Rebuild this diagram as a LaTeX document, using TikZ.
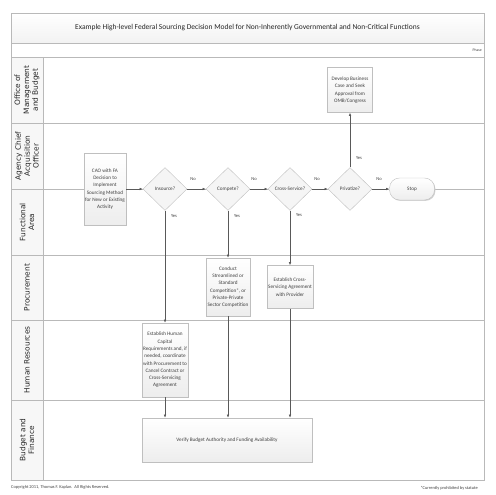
\documentclass[tikz,border=0pt]{standalone}
\usepackage{fontspec}
\setmainfont{Carlito}
\newfontfamily\lanefont{DejaVu Sans}
\usetikzlibrary{arrows.meta,shapes.geometric,shadows}
\newcommand\bxf{\fontsize{5.2}{7.3}\selectfont}
\newcommand\lblf{\fontsize{4.6}{5.5}\selectfont}
\newcommand\lnf{\lanefont\fontsize{7.4}{8.8}\selectfont}
\tikzset{
  lane/.style={draw=gray!55, line width=0.6pt},
  lanelabel/.style={rotate=90, align=center, font=\lnf, text=black!85},
  procbox/.style={draw=gray!50, top color=white, bottom color=gray!14, align=center, font=\bxf, text=black!75, inner sep=1pt,
     general shadow={fill=gray!35, shadow xshift=0.9pt, shadow yshift=-0.9pt}},
  decision/.style={diamond, draw=gray!50, fill=gray!8, align=center, font=\bxf, text=black!75, inner sep=0pt, aspect=1,
     minimum width=44pt, minimum height=43pt},
  flow/.style={draw=black!65, line width=0.6pt, -{Latex[length=3.2pt,width=2.6pt]}},
  yn/.style={font=\lblf, text=black!75, inner sep=0.5pt}
}
\begin{document}
\begin{tikzpicture}[x=1pt,y=-1pt]
\useasboundingbox (0,0) rectangle (495,495);
% title and phase
\shade[top color=white, bottom color=gray!10] (11,13) rectangle (484,43);
\node[font=\fontsize{7.5}{8.5}\selectfont, text=black!85] (title) at (247.5,28) {Example High-level Federal Sourcing Decision Model for Non-Inherently Governmental and Non-Critical Functions};
\node[font=\fontsize{3.8}{4.5}\selectfont, text=black!75, anchor=east, inner sep=1pt] (phase) at (483,50) {Phase};
% label column
\fill[gray!6] (11,57) rectangle (43,480);
% lanes
\draw[lane] (11,13) rectangle (484,480);
\draw[lane] (11,43) -- (484,43);
\draw[lane] (11,57) -- (484,57);
\draw[lane] (43,57) -- (43,480);
\foreach \yy in {123,189,255,320,400} \draw[lane] (11,\yy) -- (484,\yy);
% lane labels
\node[lanelabel] (l1) at (27,90) {Office of\\Management\\and Budget};
\node[lanelabel] (l2) at (27,156) {Agency Chief\\Acquisition\\Officer};
\node[lanelabel] (l3) at (27,222) {Functional\\Area};
\node[lanelabel] (l4) at (27,287.5) {Procurement};
\node[lanelabel] (l5) at (27,360) {Human Resources};
\node[lanelabel] (l6) at (27,440) {Budget and\\Finance};
% nodes
\node[procbox, minimum width=42pt, minimum height=72pt] (cao) at (105,189) {CAO with FA\\Decision to\\Implement\\Sourcing Method\\for New or Existing\\Activity};
\node[decision] (ins) at (165,189) {Insource?};
\node[decision] (comp) at (228,189) {Compete?};
\node[decision] (cross) at (290,189) {Cross-Service?};
\node[decision] (priv) at (350,189) {Privatize?};
\node[procbox, rounded corners=10pt, minimum width=45pt, minimum height=22pt] (stop) at (412,189) {Stop};
\node[procbox, minimum width=45pt, minimum height=45pt] (dev) at (350,90) {Develop Business\\Case and Seek\\Approval from\\OMB/Congress};
\node[procbox, minimum width=44pt, minimum height=58pt] (cond) at (228,287) {Conduct\\Streamlined or\\Standard\\Competition*, or\\Private-Private\\Sector Competition};
\node[procbox, minimum width=43pt, minimum height=43pt] (est) at (290,287) {Establish Cross-\\Servicing Agreement\\with Provider};
\node[procbox, minimum width=45pt, minimum height=74pt] (hr) at (165,360) {Establish Human\\Capital\\Requirements and, if\\needed, coordinate\\with Procurement to\\Cancel Contract or\\Cross-Servicing\\Agreement};
\node[procbox, minimum width=170pt, minimum height=44pt] (ver) at (227,440) {Verify Budget Authority and Funding Availability};
% connectors
\draw[flow] (cao) -- (ins);
\draw[flow] (ins) -- (comp);
\draw[flow] (comp) -- (cross);
\draw[flow] (cross) -- (priv);
\draw[flow] (priv) -- (stop);
\draw[flow] (priv) -- (dev);
\draw[flow] (ins.south) -- (hr.north);
\draw[flow] (comp.south) -- (cond.north);
\draw[flow] (cross.south) -- (est.north);
\draw[flow] (hr.south) -- (hr.south |- ver.north);
\draw[flow] (cond.south) -- (cond.south |- ver.north);
\draw[flow] (est.south) -- (est.south |- ver.north);
% labels
\node[yn] (n1) at (193,179) {No};
\node[yn] (n2) at (254,179) {No};
\node[yn] (n3) at (317,179) {No};
\node[yn] (n4) at (379,179) {No};
\node[yn] (y1) at (174,216) {Yes};
\node[yn] (y2) at (237,216) {Yes};
\node[yn] (y3) at (299,215) {Yes};
\node[yn] (y4) at (359,158) {Yes};
% footer
\node[font=\fontsize{4.4}{5}\selectfont, text=black!75, anchor=west, inner sep=0pt] (copy) at (11,487) {Copyright 2011, Thomas F. Kaplan.\ \ All Rights Reserved.};
\node[font=\fontsize{4.4}{5}\selectfont, text=black!75, anchor=east, inner sep=0pt] (note) at (478,488) {*Currently prohibited by statute};
\end{tikzpicture}
\end{document}
